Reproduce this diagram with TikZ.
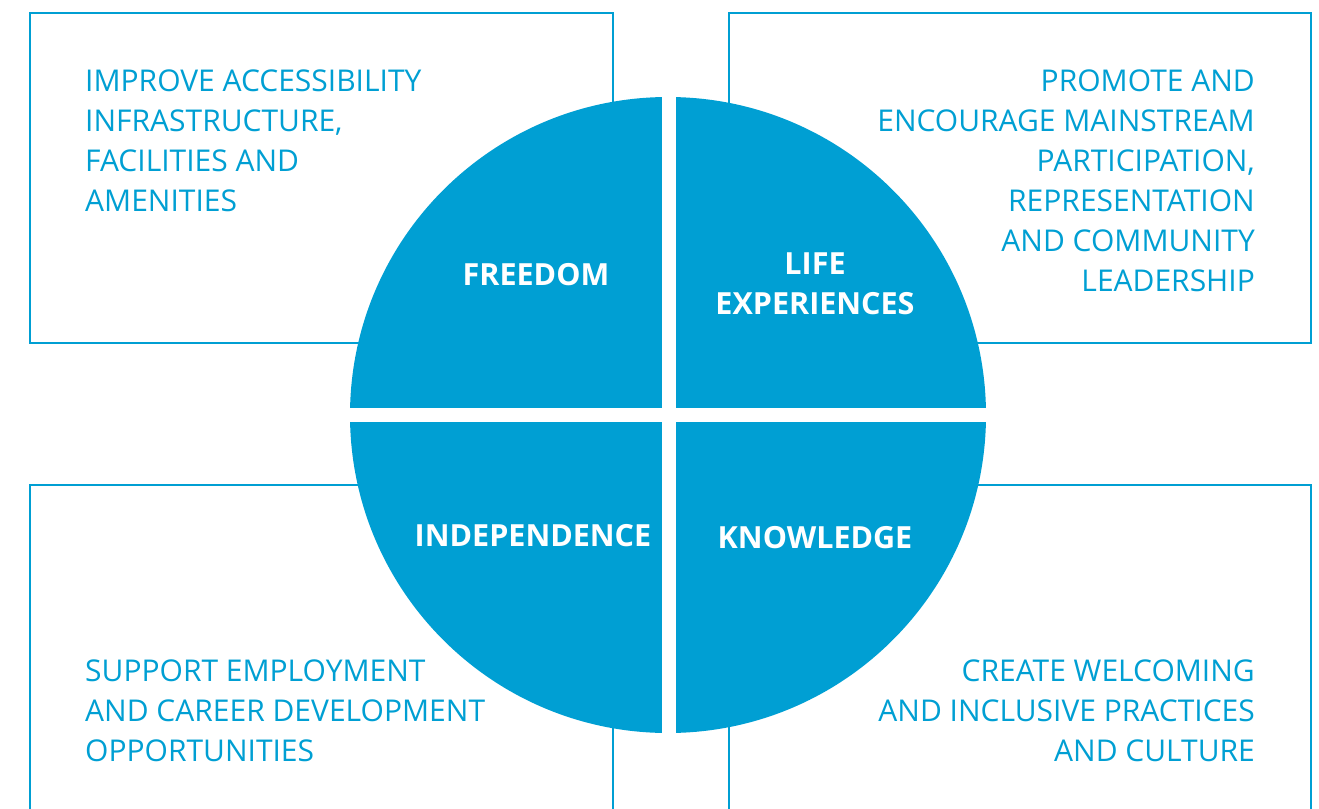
\documentclass[tikz,border=0pt]{standalone}
\usepackage{fontspec}
\setmainfont{Open Sans}
\definecolor{ringblue}{RGB}{0,159,211}
\tikzset{
  goalbox/.style={draw=ringblue, line width=2.2pt},
  goaltext/.style={text=ringblue, inner sep=0pt, font=\fontsize{30}{40}\selectfont},
  pillar/.style={text=white, inner sep=0pt, align=center, font=\bfseries\fontsize{30.5}{40}\selectfont},
}

\begin{document}
\begin{tikzpicture}[x=1pt, y=-1pt]
    \useasboundingbox (0,0) rectangle (1319,808);
    \clip (0,0) rectangle (1319,808);

    % Goal boxes
    \draw[goalbox] (30,13) rectangle (613,343);
    \draw[goalbox] (729,13) rectangle (1311,343);
    \draw[goalbox] (30,485) rectangle (613,840);
    \draw[goalbox] (729,485) rectangle (1311,840);

    % Wheel with a white cross
    \coordinate (hub) at (668,415);
    \fill[ringblue] (hub) circle (318pt);
    \fill[white] (662,90) rectangle (676,740);
    \fill[white] (345,408) rectangle (992,422);

    % Goals
    \node[goaltext, anchor=north west, align=left] (access) at (85,70)
        {IMPROVE ACCESSIBILITY\\INFRASTRUCTURE,\\FACILITIES AND\\AMENITIES};
    \node[goaltext, anchor=north east, align=right] (promote) at (1255,70)
        {PROMOTE AND\\ENCOURAGE MAINSTREAM\\PARTICIPATION,\\REPRESENTATION\\AND COMMUNITY\\LEADERSHIP};
    \node[goaltext, anchor=north west, align=left] (employ) at (85,660)
        {SUPPORT EMPLOYMENT\\AND CAREER DEVELOPMENT\\OPPORTUNITIES};
    \node[goaltext, anchor=north east, align=right] (welcome) at (1255,660)
        {CREATE WELCOMING\\AND INCLUSIVE PRACTICES\\AND CULTURE};

    % Pillars
    \node[pillar] (freedom) at (536,275) {FREEDOM};
    \node[pillar] (life) at (815,284) {LIFE\\EXPERIENCES};
    \node[pillar] (indep) at (533,536) {INDEPENDENCE};
    \node[pillar] (know) at (815,538) {KNOWLEDGE};
\end{tikzpicture}
\end{document}
